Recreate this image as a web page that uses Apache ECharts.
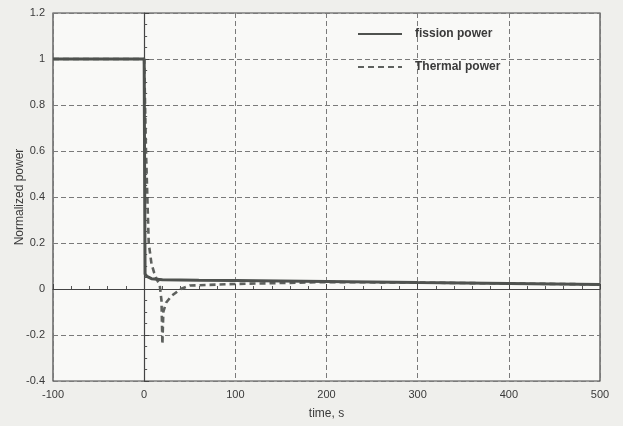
<!DOCTYPE html>
<html>
<head>
<meta charset="utf-8">
<script src="https://cdn.jsdelivr.net/npm/echarts@6/dist/echarts.min.js"></script>
<style>
  html, body { margin: 0; padding: 0; background: #efefec; }
  #chart { width: 623px; height: 426px; }
</style>
</head>
<body>
<div id="chart"></div>
<script>
// values
const fissionTime  = [-100, 0, 0.5, 1, 3, 8, 20, 60, 100, 200, 300, 400, 500];
const fissionPower = [1, 1, 0.5, 0.065, 0.055, 0.045, 0.04, 0.038, 0.037, 0.033, 0.028, 0.024, 0.02];

const thermalTime  = [-100, 0, 1, 2, 4, 5, 8, 11, 14, 17, 19, 20, 21, 24, 30, 40, 50, 100, 150, 200, 300, 400, 500];
const thermalPower = [1, 1, 0.8, 0.6, 0.33, 0.2, 0.11, 0.07, 0.04, 0.02, -0.05, -0.24, -0.1, -0.06, -0.03, 0, 0.015, 0.022, 0.026, 0.03, 0.028, 0.024, 0.02];

const xTicks = [-100, 0, 100, 200, 300, 400, 500];

const pairs = (xs, ys) => xs.map((x, i) => [x, ys[i]]);

const chart = echarts.init(document.getElementById('chart'));

const axisCommon = {
  axisLine: { show: true, lineStyle: { color: '#444', width: 1.2 } },
  axisTick: { inside: true, length: 5, lineStyle: { color: '#444' } },
  minorTick: { show: true, length: 3, lineStyle: { color: '#555' } },
  splitLine: { show: true, lineStyle: { color: '#7a7a7a', type: [5, 3], width: 1 } },
  axisLabel: { color: '#3a3a3a', fontSize: 11, fontFamily: 'Liberation Sans' },
  nameTextStyle: { color: '#3a3a3a', fontSize: 12, fontFamily: 'Liberation Sans' }
};

chart.setOption({
  backgroundColor: '#efefec',
  animation: false,
  grid: {
    left: 53, right: 23, top: 13, bottom: 45,
    show: true, borderColor: '#444', borderWidth: 1.2, backgroundColor: '#f9f9f7'
  },
  legend: {
    orient: 'vertical',
    left: 352, top: 23,
    itemWidth: 44, itemHeight: 12, itemGap: 21,
    itemStyle: { opacity: 0 },
    textStyle: { color: '#3a3a3a', fontSize: 12, fontWeight: 'bold', fontFamily: 'Liberation Sans', padding: [0, 0, 0, 8] },
    data: ['fission power', 'Thermal power']
  },
  xAxis: Object.assign({}, axisCommon, {
    type: 'value', min: -100, max: 500, interval: 100,
    minorTick: Object.assign({}, axisCommon.minorTick, { splitNumber: 5 }),
    name: 'time, s', nameLocation: 'middle', nameGap: 27,
    axisLabel: Object.assign({}, axisCommon.axisLabel, {
      customValues: xTicks, margin: 8
    })
  }),
  yAxis: Object.assign({}, axisCommon, {
    type: 'value', min: -0.4, max: 1.2, interval: 0.2,
    minorTick: Object.assign({}, axisCommon.minorTick, { splitNumber: 4 }),
    name: 'Normalized power', nameLocation: 'middle', nameGap: 27, nameMoveOverlap: false,
    axisLabel: Object.assign({}, axisCommon.axisLabel, {
      margin: 8,
      formatter: v => String(Math.round(v * 10) / 10)
    })
  }),
  series: [
    {
      name: 'fission power', type: 'line', symbol: 'none',
      data: pairs(fissionTime, fissionPower),
      lineStyle: { color: '#4f524f', width: 3 },
      itemStyle: { color: '#4f524f' },
      z: 3
    },
    {
      name: 'Thermal power', type: 'line', symbol: 'none',
      data: pairs(thermalTime, thermalPower),
      lineStyle: { color: '#5e615e', width: 2.6, type: [6, 4] },
      itemStyle: { color: '#5e615e' },
      z: 2
    }
  ]
});
</script>
</body>
</html>
